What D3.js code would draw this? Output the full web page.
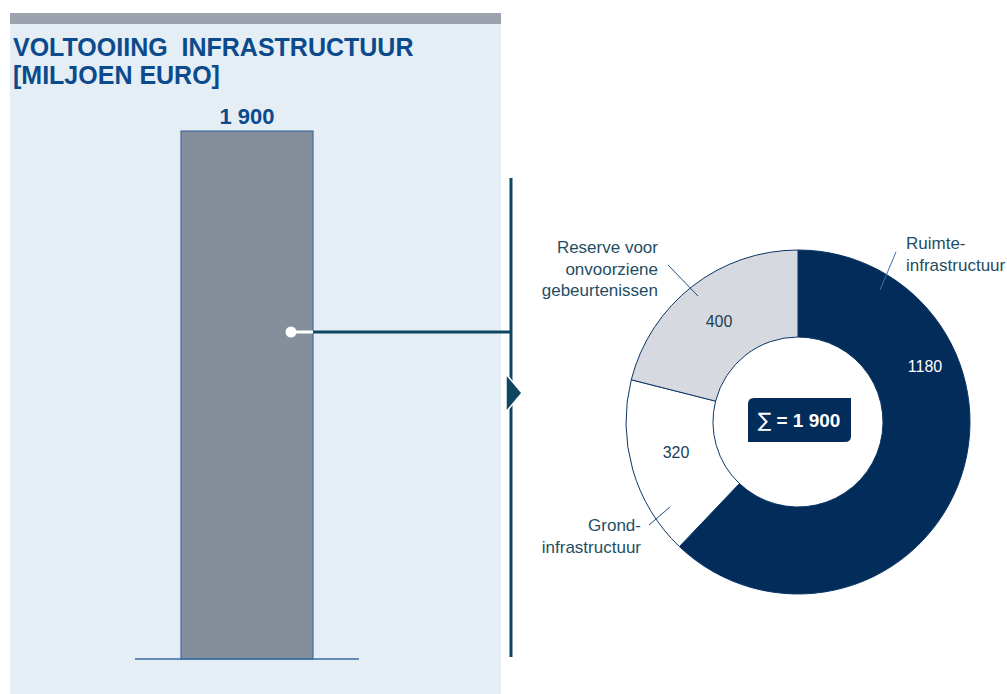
<!DOCTYPE html>
<html lang="nl">
<head>
<meta charset="utf-8">
<title>Voltooiing infrastructuur</title>
<script src="https://cdnjs.cloudflare.com/ajax/libs/d3/7.8.5/d3.min.js"></script>
<style>
  body { margin: 0; background: #fff; }
  svg { display: block; font-family: "Liberation Sans", Arial, sans-serif; }
</style>
</head>
<body>
<svg id="chart" width="1007" height="694"></svg>
<script>
// data
var barCategories = ["Totaal"];
var barValues = [1900];
var barLabels = ["1 900"];

var segCategories = ["Ruimte-infrastructuur", "Grond-infrastructuur", "Reserve voor onvoorziene gebeurtenissen"];
var segValues = [1180, 320, 400];
var segLabelLines = [["Ruimte-", "infrastructuur"], ["Grond-", "infrastructuur"], ["Reserve voor", "onvoorziene", "gebeurtenissen"]];
var segColors = ["#022c5a", "#ffffff", "#d6dae0"];
var totalSymbol = "\u2211";
var totalLabel = " = 1 900";

var svg = d3.select("#chart");

// left panel
svg.append("rect").attr("x", 10).attr("y", 24).attr("width", 491).attr("height", 670).attr("fill", "#e5edf5");
svg.append("rect").attr("x", 10).attr("y", 13).attr("width", 491).attr("height", 11).attr("fill", "#9ca3ae");

var title = svg.append("text").attr("fill", "#0b4a8c").attr("font-weight", "bold").attr("font-size", 25);
title.append("tspan").attr("x", 13).attr("y", 56).attr("xml:space", "preserve").text("VOLTOOIING  INFRASTRUCTUUR");
title.append("tspan").attr("x", 13).attr("y", 84).text("[MILJOEN EURO]");

// bar
var x = d3.scaleBand().domain(barCategories).range([135, 359]).paddingInner(0).paddingOuter(0.348);
var y = d3.scaleLinear().domain([0, 1900]).range([659, 131]);

svg.selectAll("rect.bar")
  .data(barValues)
  .enter()
  .append("rect")
  .attr("class", "bar")
  .attr("x", (d, i) => x(barCategories[i]))
  .attr("width", x.bandwidth())
  .attr("y", d => y(d))
  .attr("height", d => y(0) - y(d))
  .attr("fill", "#858f9c")
  .attr("stroke", "#2d5f9a")
  .attr("stroke-width", 1);

svg.selectAll("text.barlabel")
  .data(barValues)
  .enter()
  .append("text")
  .attr("x", (d, i) => x(barCategories[i]) + x.bandwidth() / 2)
  .attr("y", d => y(d) - 7)
  .attr("text-anchor", "middle")
  .attr("font-weight", "bold")
  .attr("font-size", 22)
  .attr("fill", "#0b4a8c")
  .text((d, i) => barLabels[i]);

// baseline
svg.append("line").attr("x1", 135).attr("x2", 359).attr("y1", y(0)).attr("y2", y(0))
  .attr("stroke", "#3a6aa6").attr("stroke-width", 1.3);

// connector
var barRight = x(barCategories[0]) + x.bandwidth();
svg.append("line").attr("x1", barRight).attr("x2", 512).attr("y1", 332).attr("y2", 332)
  .attr("stroke", "#0e4560").attr("stroke-width", 3);
svg.append("line").attr("x1", 291).attr("x2", barRight).attr("y1", 332).attr("y2", 332)
  .attr("stroke", "#ffffff").attr("stroke-width", 3);
svg.append("circle").attr("cx", 291).attr("cy", 332).attr("r", 5.5).attr("fill", "#ffffff");
svg.append("line").attr("x1", 511).attr("x2", 511).attr("y1", 178).attr("y2", 657)
  .attr("stroke", "#0e4560").attr("stroke-width", 3);
svg.append("path").attr("d", "M506,374 L522,393 L506,412 Z").attr("fill", "#0e4560")
  .attr("stroke", "#ffffff").attr("stroke-width", 1.5);

// donut
var cx = 798, cy = 422, rOut = 172, rIn = 85;
var pie = d3.pie().sort(null).value(d => d).startAngle(0).endAngle(2 * Math.PI);
var arcs = pie(segValues);
var arc = d3.arc().innerRadius(rIn).outerRadius(rOut);
var g = svg.append("g").attr("transform", "translate(" + cx + "," + cy + ")");

g.selectAll("path")
  .data(arcs)
  .enter()
  .append("path")
  .attr("d", arc)
  .attr("fill", (d, i) => segColors[i])
  .attr("stroke", "#0b3566")
  .attr("stroke-width", 1);

// value labels
var valuePos = [[127, -50], [-122, 36], [-79, -95]];
g.selectAll("text.val")
  .data(arcs)
  .enter()
  .append("text")
  .attr("x", (d, i) => valuePos[i][0])
  .attr("y", (d, i) => valuePos[i][1])
  .attr("text-anchor", "middle")
  .attr("font-size", 16)
  .attr("fill", (d, i) => i === 0 ? "#ffffff" : "#1d3d55")
  .text(d => d.data);

// center total
g.append("path")
  .attr("d", "M-44,-24 L53,-24 L53,14 Q53,20 47,20 L-50,20 L-50,-18 Q-50,-24 -44,-24 Z")
  .attr("fill", "#022c5a");
var tot = g.append("text").attr("x", 1).attr("y", 5).attr("text-anchor", "middle")
  .attr("font-size", 19).attr("font-weight", "bold").attr("fill", "#ffffff");
tot.append("tspan").attr("font-family", "DejaVu Sans").attr("font-weight", "normal").attr("font-size", 20).text(totalSymbol);
tot.append("tspan").attr("xml:space", "preserve").text(totalLabel);

// category labels and leaders
var labelCfg = [
  { x: 906, y: 249, anchor: "start", lx1: 896, ly1: 252, lx2: 880, ly2: 290 },
  { x: 641, y: 531, anchor: "end", lx1: 649, ly1: 525, lx2: 670, ly2: 507 },
  { x: 658, y: 253, anchor: "end", lx1: 668, ly1: 265, lx2: 698, ly2: 296 }
];
segLabelLines.forEach(function(lines, i) {
  var c = labelCfg[i];
  var t = svg.append("text").attr("font-size", 17).attr("fill", "#1f4e63").attr("text-anchor", c.anchor);
  lines.forEach(function(l, j) {
    t.append("tspan").attr("x", c.x).attr("y", c.y + j * 21.5).text(l);
  });
  svg.append("line").attr("x1", c.lx1).attr("y1", c.ly1).attr("x2", c.lx2).attr("y2", c.ly2)
    .attr("stroke", i === 0 ? "#3d6fb0" : "#1f4e7a").attr("stroke-width", 1);
});
</script>
</body>
</html>
